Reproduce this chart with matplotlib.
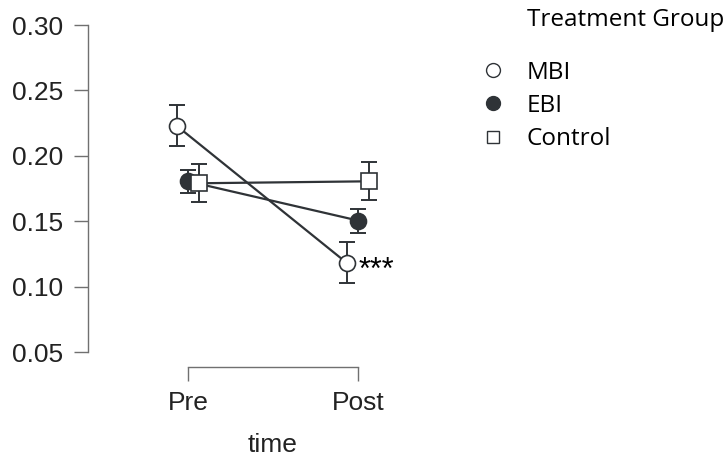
import matplotlib
matplotlib.use("Agg")
import matplotlib.pyplot as plt
import numpy as np
from matplotlib.lines import Line2D

# values
times = ["Pre", "Post"]
groups = ["MBI", "EBI", "Control"]
means = {
    "MBI": [0.2228, 0.1180],
    "EBI": [0.1805, 0.1505],
    "Control": [0.1790, 0.1805],
}
lower = {
    "MBI": [0.2075, 0.1025],
    "EBI": [0.1715, 0.1410],
    "Control": [0.1645, 0.1660],
}
upper = {
    "MBI": [0.2385, 0.1340],
    "EBI": [0.1890, 0.1595],
    "Control": [0.1940, 0.1950],
}
yticks = [0.05, 0.10, 0.15, 0.20, 0.25, 0.30]

dark = "#2f3337"
axcol = "#707070"
styles = {
    "MBI": dict(marker="o", mfc="white"),
    "EBI": dict(marker="o", mfc=dark),
    "Control": dict(marker="s", mfc="white"),
}
dodge = {"MBI": -0.065, "EBI": 0.0, "Control": 0.065}

plt.rcParams["font.family"] = ["Liberation Sans", "DejaVu Sans"]

fig = plt.figure(figsize=(7.27, 4.66), dpi=100)
W, H = 727, 466
ax = fig.add_axes([88 / W, 1 - 352 / H, (458 - 88) / W, (352 - 25) / H])

x = np.arange(len(times))
for g in groups:
    xs = x + dodge[g]
    m = np.array(means[g])
    err = [m - np.array(lower[g]), np.array(upper[g]) - m]
    ax.plot(xs, m, color=dark, lw=1.6, zorder=2)
    ax.errorbar(xs, m, yerr=err, fmt="none", ecolor=dark, elinewidth=1.4,
                capsize=6, capthick=1.4, zorder=3)
    ax.plot(xs, m, ls="none", marker=styles[g]["marker"], ms=11.5,
            mfc=styles[g]["mfc"], mec=dark, mew=1.2, zorder=4)

# significance mark next to MBI post
ax.annotate("***", (x[1] + dodge["MBI"], means["MBI"][1]), xytext=(8.5, -6),
            textcoords="offset points", fontsize=22, color="black",
            ha="left", va="center")

ax.set_xlim(-0.588, 1.588)
ax.set_ylim(0.05, 0.30)
ax.set_yticks(yticks)
ax.set_yticklabels([f"{v:.2f}" for v in yticks])
ax.set_xticks(x)
ax.set_xticklabels(times)

for s in ["top", "right"]:
    ax.spines[s].set_visible(False)
ax.spines["left"].set_bounds(0.05, 0.30)
ax.spines["bottom"].set_bounds(0, 1)
ax.spines["bottom"].set_position(("outward", 11))
for s in ["left", "bottom"]:
    ax.spines[s].set_color(axcol)
    ax.spines[s].set_linewidth(1.0)
ax.tick_params(axis="both", colors=axcol, length=10, width=1.0,
               labelsize=19, labelcolor="#222222", pad=8)
ax.tick_params(axis="x", pad=7)
ax.set_xlabel("time", fontsize=19, color="#222222", labelpad=13)
ax.patch.set_visible(False)

# legend
handles = [Line2D([], [], ls="none", marker=styles[g]["marker"], ms=10 if g != "Control" else 8.5,
                  mfc=styles[g]["mfc"], mec=dark, mew=1.0) for g in groups]
fig.text(527 / W, 1 - 20 / H, "Treatment Group", fontsize=17.5,
         family=["Open Sans", "DejaVu Sans"], va="center", ha="left")
fig.legend(handles, groups, loc="upper left", bbox_to_anchor=(471 / W, 1 - 51 / H),
           frameon=False, prop={"family": ["Open Sans", "DejaVu Sans"], "size": 17.5},
           handlelength=1.0, handletextpad=0.9, labelspacing=0.38, borderaxespad=0)

fig.savefig("out.png", dpi=100)
